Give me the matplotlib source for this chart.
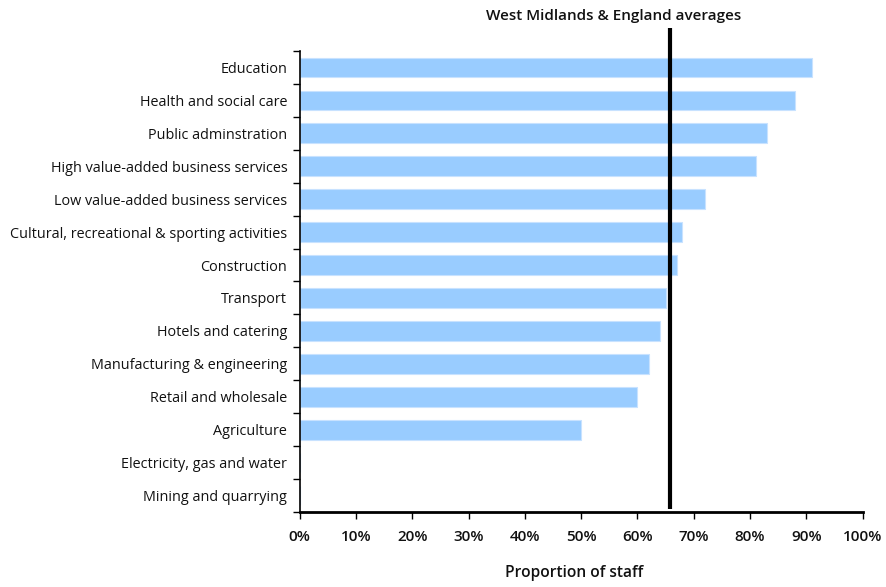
import matplotlib
matplotlib.use("Agg")
import matplotlib.pyplot as plt
from matplotlib.ticker import MultipleLocator, FixedLocator, PercentFormatter

plt.rcParams['font.family'] = ['Open Sans', 'DejaVu Sans']

sectors = [
    "Education",
    "Health and social care",
    "Public adminstration",
    "High value-added business services",
    "Low value-added business services",
    "Cultural, recreational & sporting activities",
    "Construction",
    "Transport",
    "Hotels and catering",
    "Manufacturing & engineering",
    "Retail and wholesale",
    "Agriculture",
    "Electricity, gas and water",
    "Mining and quarrying",
]
proportion = [91, 88, 83, 81, 72, 68, 67, 65, 64, 62, 60, 50, 0, 0]
average = 65.7
average_label = "West Midlands & England averages"

fig = plt.figure(figsize=(8.87, 5.87), dpi=100)
ax = fig.add_axes([0.338, 0.1278, 0.6344, 0.7853])

n = len(sectors)
ypos = list(range(n))
ax.barh(ypos, proportion, height=0.6, color="#99CCFF", edgecolor="#C8E2FF",
        linewidth=0.8, zorder=2)

ax.set_xlim(0, 100)
ax.set_ylim(n - 0.5, -0.5)

# Average marker: extends above the plot area up to its caption
ax.plot([average, average], [n - 0.5 - 0.1, -1.2], color="black", lw=3,
        clip_on=False, zorder=3, solid_capstyle="butt")
ax.text(55.8, -1.56, average_label, ha="center", va="center",
        fontsize=11, fontweight="semibold", color="#111111")

# Category labels centred on bars, ticks on category boundaries
ax.set_yticks(ypos)
ax.set_yticklabels(sectors, fontsize=10.4, color="#111111")
ax.tick_params(axis="y", which="major", length=0, pad=9)
ax.yaxis.set_minor_locator(FixedLocator([i - 0.5 for i in range(n + 1)]))
ax.tick_params(axis="y", which="minor", length=5, width=1, direction="out")

ax.xaxis.set_major_locator(MultipleLocator(10))
ax.xaxis.set_major_formatter(PercentFormatter(decimals=0))
ax.tick_params(axis="x", length=5, width=1, direction="out", pad=8,
               labelsize=11)
for lbl in ax.get_xticklabels():
    lbl.set_fontweight("semibold")
    lbl.set_color("#111111")

ax.set_xlabel("Proportion of staff", fontsize=11.2, fontweight="semibold",
              color="#111111")
ax.xaxis.set_label_coords(0.487, -0.115)

for side in ("top", "right"):
    ax.spines[side].set_visible(False)
ax.spines["left"].set_linewidth(1.2)
ax.spines["bottom"].set_linewidth(2)

fig.savefig("out.png", dpi=100)
